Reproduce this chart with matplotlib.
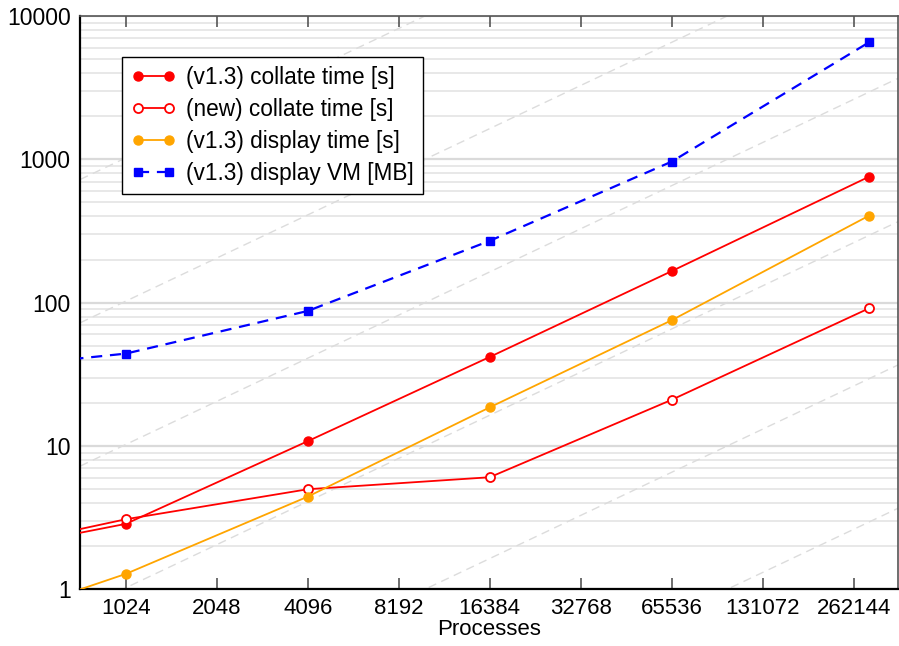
import matplotlib
matplotlib.use("Agg")
import matplotlib.pyplot as plt
import numpy as np
from matplotlib.ticker import FixedLocator, NullFormatter, NullLocator

plt.rcParams['font.family'] = ['Liberation Sans', 'DejaVu Sans']

processes = [512, 1024, 4096, 16384, 65536, 294912]
collate_v13 = [2.15, 2.86, 10.8, 41.8, 166, 757]
collate_new = [2.25, 3.08, 4.99, 6.05, 21.0, 91.4]
display_time_v13 = [0.78, 1.28, 4.43, 18.6, 75.4, 405]
display_vm_v13 = [37.9, 44.1, 87.5, 270, 964, 6563]

xticks = [1024, 2048, 4096, 8192, 16384, 32768, 65536, 131072, 262144]
yticks = [1, 10, 100, 1000, 10000]
ref_factors = [1e-5, 1e-4, 1e-3, 1e-2, 1e-1, 1.0]

fig = plt.figure(figsize=(8.99, 6.46), dpi=100)
ax = fig.add_axes([0.0893, 0.0878, 0.9099, 0.8874])
ax.set_xscale('log', base=2)
ax.set_yscale('log')
xmin, xmax = 2**9.5, 2**18.49
ax.set_xlim(xmin, xmax)
ax.set_ylim(1, 10000)

# horizontal grid lines (minor and major)
for d in range(0, 4):
    for m in range(2, 10):
        ax.axhline(m * 10**d, color='#e2e2e2', lw=1.1, zorder=0)
for t in yticks:
    ax.axhline(t, color='#dadada', lw=1.6, zorder=0)

# ideal scaling reference lines
xr = np.array([xmin, xmax])
for f in ref_factors:
    ax.plot(xr, xr * f, color='#dcdcdc', lw=1.0, ls=(0, (6, 4)), zorder=1)

ax.plot(processes, collate_v13, color='#ff0000', lw=1.3, marker='o', ms=6.5,
        mfc='#ff0000', mec='#ff0000', label='(v1.3) collate time [s]', zorder=3)
ax.plot(processes, collate_new, color='#ff0000', lw=1.3, marker='o', ms=6.5,
        mfc='white', mec='#ff0000', mew=1.3, label='(new) collate time [s]', zorder=3)
ax.plot(processes, display_time_v13, color='#ffa500', lw=1.3, marker='o', ms=6.5,
        mfc='#ffa500', mec='#ffa500', label='(v1.3) display time [s]', zorder=3)
ax.plot(processes, display_vm_v13, color='#0000ff', lw=1.6, ls=(0, (5, 3.5)), marker='s', ms=5.8,
        mfc='#0000ff', mec='#0000ff', label='(v1.3) display VM [MB]', zorder=3)

ax.xaxis.set_major_locator(FixedLocator(xticks))
ax.xaxis.set_minor_locator(NullLocator())
ax.set_xticklabels([str(t) for t in xticks])
ax.yaxis.set_major_locator(FixedLocator(yticks))
ax.yaxis.set_minor_locator(NullLocator())
ax.set_yticklabels([str(t) for t in yticks])
ax.yaxis.set_minor_formatter(NullFormatter())

ax.tick_params(axis='x', which='major', direction='in', length=8, width=1.2,
               color='#555555', top=True, bottom=True, labelsize=16, pad=6)
ax.tick_params(axis='y', which='major', length=0, labelsize=16.5, pad=7)

for side in ['left', 'bottom']:
    ax.spines[side].set_color('black')
    ax.spines[side].set_linewidth(1.6)
for side in ['top', 'right']:
    ax.spines[side].set_color('#555555')
    ax.spines[side].set_linewidth(1.2)

ax.set_xlabel('Processes', fontsize=16, labelpad=0.5)

leg = ax.legend(loc='upper left', bbox_to_anchor=(0.0506, 0.929), borderaxespad=0,
                fontsize=16.3, numpoints=2, handlelength=2.0, fancybox=False,
                edgecolor='black', framealpha=1, borderpad=0.4, labelspacing=0.4,
                handletextpad=0.45)
leg.get_frame().set_linewidth(1.0)

fig.savefig('out.png', dpi=100)
